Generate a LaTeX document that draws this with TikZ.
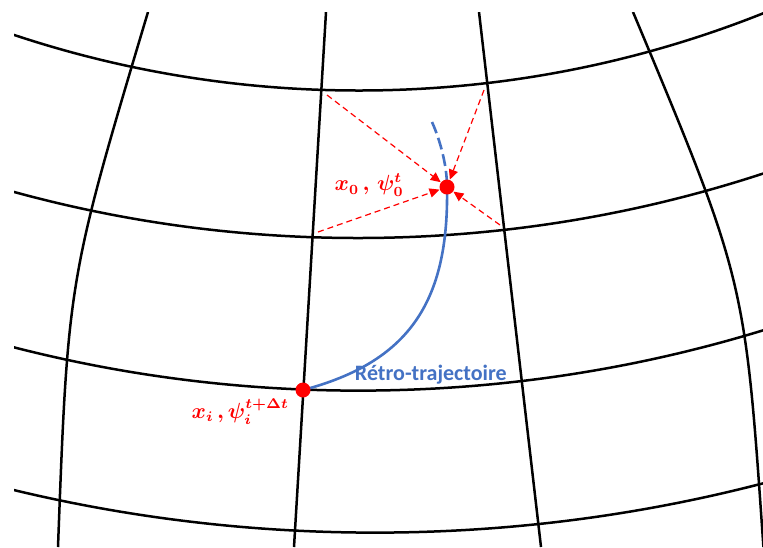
\documentclass[tikz,border=0pt]{standalone}
\usepackage{fontspec}
\usepackage{amsmath,bm}
\newfontfamily\carlito{Carlito}
\usetikzlibrary{arrows.meta, positioning}
\definecolor{trajblue}{HTML}{4472C4}
\definecolor{ptred}{HTML}{FF0000}

\begin{document}
\begin{tikzpicture}[
		x=0.5pt, y=-0.5pt,
		>={Triangle[length=5pt,width=4.6pt]},
		% Styles
		grid/.style={draw, line width=1.25pt, black},
		dot/.style={circle, fill=ptred, inner sep=0pt, minimum size=7.5pt},
		pointlbl/.style={text=ptred, inner sep=0pt, font=\fontsize{10.5}{12}\selectfont},
		trajlbl/.style={text=trajblue, inner sep=0pt, font=\carlito\bfseries\fontsize{11}{13}\selectfont},
		search/.style={draw=ptred, line width=0.6pt, dash pattern=on 3pt off 2pt, ->},
		traj/.style={draw=trajblue, line width=1.3pt}
		]
		
		\useasboundingbox (0,0) rectangle (763,547);
		\clip (0,0) rectangle (763,547);
		
		% --- MAILLAGE ---
		
		% Paralleles (arcs de cercle)
		\begin{scope}
			\clip (14,0) rectangle (763,547);
			\draw [grid] (359,-1002) circle [radius=1092.5];
			\draw [grid] (358,-1060) circle [radius=1298];
			\draw [grid] (358.3,-990.1) circle [radius=1380.7];
			\draw [grid] (375,-1008) circle [radius=1540.6];
		\end{scope}
		
		% Meridiens
		\begin{scope}
			\clip (0,12) rectangle (763,547);
			\draw [grid] (148,12) .. controls (68,279.5) .. (58,547);
			\draw [grid] (326,12) -- (294,547);
			\draw [grid] (479,12) -- (541,547);
			\draw [grid] (633,12) .. controls (745,279.5) .. (763.4,547);
		\end{scope}
		
		% --- RETRO-TRAJECTOIRE ---
		\coordinate (pi) at (303,390);
		\coordinate (p0) at (447,187);
		\draw [traj] (pi) .. controls (409,362) and (449,302) .. (p0);
		\draw [traj, dash pattern=on 6pt off 2.5pt] (432,122) .. controls (440,140) and (447,165) .. (p0);
		
		% --- POINTS ---
		\node [dot] (x0) at (p0) {};
		\node [dot] (xi) at (pi) {};
		
		% Coins de la maille
		\coordinate (cUL) at (327,95);
		\coordinate (cUR) at (484,90);
		\coordinate (cLL) at (318,232);
		\coordinate (cLR) at (500,225);
		
		\draw [search] (cUL) -- (x0);
		\draw [search] (cUR) -- (x0);
		\draw [search] (cLL) -- (x0);
		\draw [search] (cLR) -- (x0);
		
		% --- ETIQUETTES ---
		\node [pointlbl, left=17.5pt of x0, yshift=1pt] (lbl0) {$\bm{x_0\,,\,\psi_0^t}$};
		\node [pointlbl, below left=1.5pt and 4pt of xi] (lbli) {$\bm{x_i\,,\psi_i^{t+\Delta t}}$};
		\node [trajlbl, above right=0pt and 23pt of xi] (lbltraj) {Rétro-trajectoire};
		
	\end{tikzpicture}
\end{document}
